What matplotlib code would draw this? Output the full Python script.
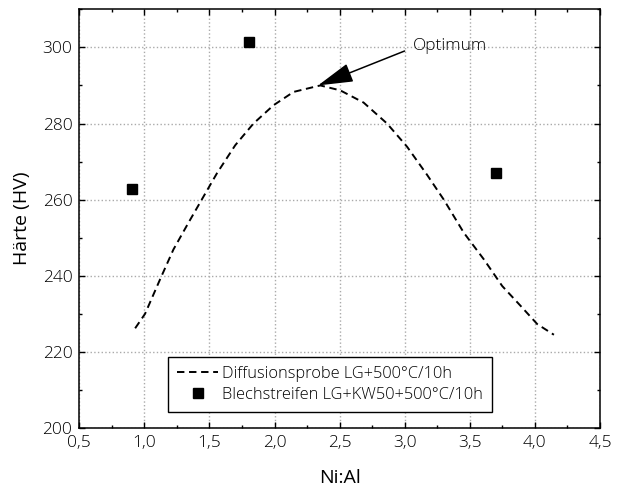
import matplotlib
matplotlib.use("Agg")
import matplotlib.pyplot as plt
from matplotlib.ticker import MultipleLocator, FuncFormatter

plt.rcParams['font.family'] = ['Open Sans', 'DejaVu Sans']
plt.rcParams['font.weight'] = 'light'

# Diffusionsprobe LG+500°C/10h (gestrichelte Kurve)
kurve_x = [0.929, 1.005, 1.121, 1.223, 1.338, 1.454, 1.557, 1.698, 1.838, 1.992, 2.146, 2.326,
           2.352, 2.505, 2.684, 2.864, 3.018, 3.172, 3.300, 3.454, 3.608, 3.749, 3.890, 4.018, 4.146]
kurve_y = [226.2, 230.0, 239.1, 246.9, 253.9, 260.8, 266.9, 274.3, 280.0, 284.8, 288.3, 289.8,
           290.0, 288.7, 285.5, 280.0, 273.9, 266.5, 260.0, 251.3, 244.3, 237.3, 232.1, 227.3, 224.5]

# Blechstreifen LG+KW50+500°C/10h (Messpunkte)
punkte_x = [0.906, 1.80, 3.705]
punkte_y = [262.9, 301.4, 267.1]

fig = plt.figure(figsize=(6.22, 4.93), dpi=100)
ax = fig.add_axes([0.1275, 0.1318, 0.8371, 0.8493])

ax.plot(kurve_x, kurve_y, color='k', ls='--', lw=1.4, dashes=(3.8, 2.4),
        label="Diffusionsprobe LG+500°C/10h")
ax.plot(punkte_x, punkte_y, 'ks', ms=7.5, ls='none',
        label="Blechstreifen LG+KW50+500°C/10h")

ax.annotate("Optimum", xy=(2.334, 290.0), xytext=(3.06, 300.3), fontsize=12.5, va='center',
            arrowprops=dict(arrowstyle='-|>,head_length=1.1,head_width=0.3', color='k', lw=1.1,
                            mutation_scale=20, shrinkA=4, shrinkB=0, relpos=(0, 0.4)))

ax.set_xlim(0.5, 4.5)
ax.set_ylim(200, 310)
ax.xaxis.set_major_locator(MultipleLocator(0.5))
ax.xaxis.set_minor_locator(MultipleLocator(0.25))
ax.yaxis.set_major_locator(MultipleLocator(20))
ax.yaxis.set_minor_locator(MultipleLocator(10))
ax.xaxis.set_major_formatter(FuncFormatter(lambda v, p: f"{v:.1f}".replace('.', ',')))
ax.tick_params(which='both', direction='in', top=True, right=True, labelsize=12.5, width=1)
ax.tick_params(which='major', length=4.5, pad=5)
ax.tick_params(which='minor', length=2.5)
ax.grid(True, which='major', ls=':', color='#aaaaaa', lw=1)
for s in ax.spines.values():
    s.set_linewidth(1.1)

ax.set_xlabel("Ni:Al", fontsize=14, labelpad=13)
ax.set_ylabel("Härte (HV)", fontsize=14, labelpad=8)

leg = ax.legend(loc='lower left', bbox_to_anchor=(0.171, 0.039), fontsize=11.8, fancybox=False,
                edgecolor='k', framealpha=1, borderpad=0.55, handlelength=2.5,
                handletextpad=0.25, labelspacing=0.3, borderaxespad=0)
leg.get_frame().set_linewidth(1)

fig.savefig("out.png")
